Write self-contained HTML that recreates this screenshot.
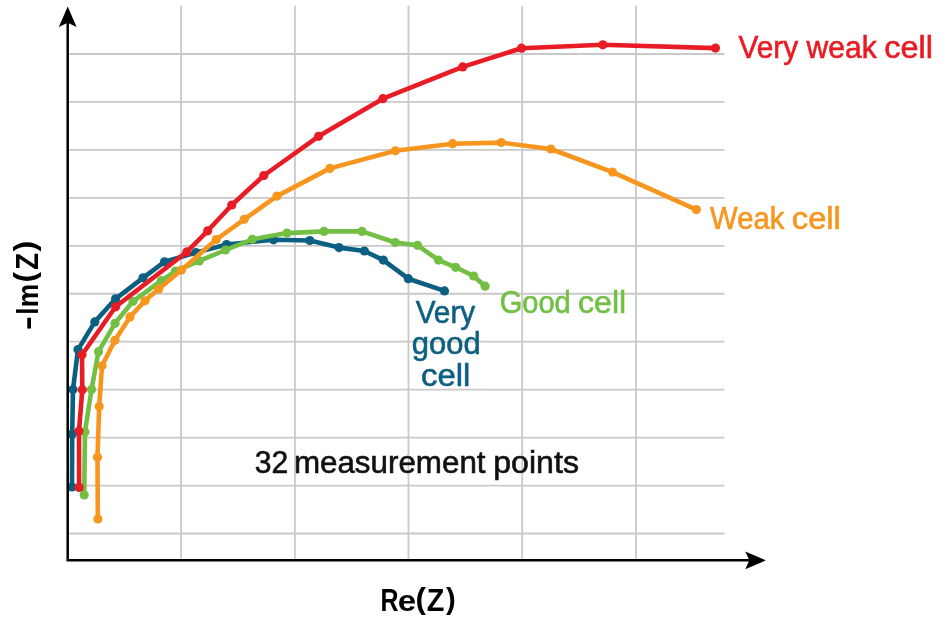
<!DOCTYPE html>
<html lang="en"><head><meta charset="utf-8"><title>Nyquist plot</title>
<style>html,body{margin:0;padding:0;background:#fff}svg{display:block}</style></head>
<body>
<svg width="948" height="627" viewBox="0 0 948 627" font-family="'Liberation Sans', sans-serif">
<rect width="948" height="627" fill="#fff"/>
<g stroke="#c9c9cb" stroke-width="1.8"><line x1="67" x2="724.5" y1="53.98" y2="53.98"/><line x1="67" x2="724.5" y1="101.93" y2="101.93"/><line x1="67" x2="724.5" y1="149.88" y2="149.88"/><line x1="67" x2="724.5" y1="197.83" y2="197.83"/><line x1="67" x2="724.5" y1="245.78" y2="245.78"/><line x1="67" x2="724.5" y1="293.73" y2="293.73"/><line x1="67" x2="724.5" y1="341.68" y2="341.68"/><line x1="67" x2="724.5" y1="389.63" y2="389.63"/><line x1="67" x2="724.5" y1="437.58" y2="437.58"/><line x1="67" x2="724.5" y1="485.53" y2="485.53"/><line x1="67" x2="724.5" y1="533.48" y2="533.48"/><line x1="181.1" x2="181.1" y1="5.8" y2="560"/><line x1="294.9" x2="294.9" y1="5.8" y2="560"/><line x1="408.45" x2="408.45" y1="5.8" y2="560"/><line x1="522.2" x2="522.2" y1="5.8" y2="560"/><line x1="635.95" x2="635.95" y1="5.8" y2="560"/></g>
<polyline points="72,487 72.2,434 73,389.5 78,349.6 94.8,321.9 115.6,298.8 143,277.8 164.5,261.8 196,252.6 226.6,244.5 273.5,239.8 309.8,240.5 339,247.6 364.4,251.0 383.3,260.1 408.3,278.7 444.5,290.9" fill="none" stroke="#0b5f80" stroke-width="4.6" stroke-linejoin="round" stroke-linecap="round"/>
<g fill="#0b5f80"><circle cx="72" cy="487" r="4.6"/><circle cx="72.2" cy="434" r="4.6"/><circle cx="73" cy="389.5" r="4.6"/><circle cx="78" cy="349.6" r="4.6"/><circle cx="94.8" cy="321.9" r="4.6"/><circle cx="115.6" cy="298.8" r="4.6"/><circle cx="143" cy="277.8" r="4.6"/><circle cx="164.5" cy="261.8" r="4.6"/><circle cx="196" cy="252.6" r="4.6"/><circle cx="226.6" cy="244.5" r="4.6"/><circle cx="273.5" cy="239.8" r="4.6"/><circle cx="309.8" cy="240.5" r="4.6"/><circle cx="339" cy="247.6" r="4.6"/><circle cx="364.4" cy="251.0" r="4.6"/><circle cx="383.3" cy="260.1" r="4.6"/><circle cx="408.3" cy="278.7" r="4.6"/><circle cx="444.5" cy="290.9" r="4.6"/></g>
<polyline points="84.2,494.9 85,431.9 91.5,389.5 98.5,351.7 115,323.3 133,301.3 161.3,280.7 175.5,271.1 199.3,260.9 225.5,250.0 252.4,239.3 287,233.1 324.1,231.4 362,231.4 395.2,242.5 417.5,245.3 438.5,260.1 455.7,267.3 473.6,276.0 485.1,286.2" fill="none" stroke="#72bf44" stroke-width="4.6" stroke-linejoin="round" stroke-linecap="round"/>
<g fill="#72bf44"><circle cx="84.2" cy="494.9" r="4.6"/><circle cx="85" cy="431.9" r="4.6"/><circle cx="91.5" cy="389.5" r="4.6"/><circle cx="98.5" cy="351.7" r="4.6"/><circle cx="115" cy="323.3" r="4.6"/><circle cx="133" cy="301.3" r="4.6"/><circle cx="161.3" cy="280.7" r="4.6"/><circle cx="175.5" cy="271.1" r="4.6"/><circle cx="199.3" cy="260.9" r="4.6"/><circle cx="225.5" cy="250.0" r="4.6"/><circle cx="252.4" cy="239.3" r="4.6"/><circle cx="287" cy="233.1" r="4.6"/><circle cx="324.1" cy="231.4" r="4.6"/><circle cx="362" cy="231.4" r="4.6"/><circle cx="395.2" cy="242.5" r="4.6"/><circle cx="417.5" cy="245.3" r="4.6"/><circle cx="438.5" cy="260.1" r="4.6"/><circle cx="455.7" cy="267.3" r="4.6"/><circle cx="473.6" cy="276.0" r="4.6"/><circle cx="485.1" cy="286.2" r="4.6"/></g>
<polyline points="97.85,519 97.5,457.2 99.2,406.5 102,365.8 115,340.3 130,316.9 145,300.8 158.7,288.9 181.5,270.0 216.3,239.5 244.2,219.3 277,196.1 329.8,168.4 395.4,150.8 452.6,143.7 501.2,142.6 550.8,149.0 612.5,172.1 696.3,209.6" fill="none" stroke="#f6961f" stroke-width="4.6" stroke-linejoin="round" stroke-linecap="round"/>
<g fill="#f6961f"><circle cx="97.85" cy="519" r="4.6"/><circle cx="97.5" cy="457.2" r="4.6"/><circle cx="99.2" cy="406.5" r="4.6"/><circle cx="102" cy="365.8" r="4.6"/><circle cx="115" cy="340.3" r="4.6"/><circle cx="130" cy="316.9" r="4.6"/><circle cx="145" cy="300.8" r="4.6"/><circle cx="158.7" cy="288.9" r="4.6"/><circle cx="181.5" cy="270.0" r="4.6"/><circle cx="216.3" cy="239.5" r="4.6"/><circle cx="244.2" cy="219.3" r="4.6"/><circle cx="277" cy="196.1" r="4.6"/><circle cx="329.8" cy="168.4" r="4.6"/><circle cx="395.4" cy="150.8" r="4.6"/><circle cx="452.6" cy="143.7" r="4.6"/><circle cx="501.2" cy="142.6" r="4.6"/><circle cx="550.8" cy="149.0" r="4.6"/><circle cx="612.5" cy="172.1" r="4.6"/><circle cx="696.3" cy="209.6" r="4.6"/></g>
<polyline points="79.1,487.5 79,431 82.3,389.8 82,354.8 115.6,306.8 186.8,251.9 207.7,230.8 231.8,205.0 263.8,175.5 318.6,136.3 382.9,98.7 462.7,66.9 521.5,48.2 602.8,44.8 715.5,48.1" fill="none" stroke="#e81c24" stroke-width="4.6" stroke-linejoin="round" stroke-linecap="round"/>
<g fill="#e81c24"><circle cx="79.1" cy="487.5" r="4.6"/><circle cx="79" cy="431" r="4.6"/><circle cx="82.3" cy="389.8" r="4.6"/><circle cx="82" cy="354.8" r="4.6"/><circle cx="115.6" cy="306.8" r="4.6"/><circle cx="186.8" cy="251.9" r="4.6"/><circle cx="207.7" cy="230.8" r="4.6"/><circle cx="231.8" cy="205.0" r="4.6"/><circle cx="263.8" cy="175.5" r="4.6"/><circle cx="318.6" cy="136.3" r="4.6"/><circle cx="382.9" cy="98.7" r="4.6"/><circle cx="462.7" cy="66.9" r="4.6"/><circle cx="521.5" cy="48.2" r="4.6"/><circle cx="602.8" cy="44.8" r="4.6"/><circle cx="715.5" cy="48.1" r="4.6"/></g>

<path d="M67.7 22 V560.35 H750" fill="none" stroke="#000" stroke-width="2.5" stroke-linejoin="miter"/>
<path d="M67.7 6.5 L76.6 26.9 L67.7 22.8 L58.8 26.9 Z" fill="#000"/>
<path d="M765.8 560.35 L745.3 569.25 L749.3 560.35 L745.3 551.45 Z" fill="#000"/>
<text y="57.8" fill="#e81c24" stroke="#e81c24" stroke-width="0.6" font-size="30.8" font-weight="400"><tspan x="738.40" textLength="59.73" lengthAdjust="spacingAndGlyphs">Very</tspan> <tspan x="806.60" textLength="70.14" lengthAdjust="spacingAndGlyphs">weak</tspan> <tspan x="884.30" textLength="48.69" lengthAdjust="spacingAndGlyphs">cell</tspan></text>
<text y="229.4" fill="#f6961f" stroke="#f6961f" stroke-width="0.6" font-size="30.8" font-weight="400"><tspan x="710.11" textLength="74.34" lengthAdjust="spacingAndGlyphs">Weak</tspan> <tspan x="791.79" textLength="49.12" lengthAdjust="spacingAndGlyphs">cell</tspan></text>
<text y="312.8" fill="#72bf44" stroke="#72bf44" stroke-width="0.6" font-size="30.8" font-weight="400"><tspan x="499.65" textLength="71.08" lengthAdjust="spacingAndGlyphs">Good</tspan> <tspan x="578.01" textLength="48.26" lengthAdjust="spacingAndGlyphs">cell</tspan></text>

<text y="322.6" fill="#0b5f80" stroke="#0b5f80" stroke-width="0.6" font-size="30.8" font-weight="400"><tspan x="415.70" textLength="59.43" lengthAdjust="spacingAndGlyphs">Very</tspan></text>
<text y="353.9" fill="#0b5f80" stroke="#0b5f80" stroke-width="0.6" font-size="30.8" font-weight="400"><tspan x="411.76" textLength="68.94" lengthAdjust="spacingAndGlyphs">good</tspan></text>
<text y="385.5" fill="#0b5f80" stroke="#0b5f80" stroke-width="0.6" font-size="30.8" font-weight="400"><tspan x="420.98" textLength="49.34" lengthAdjust="spacingAndGlyphs">cell</tspan></text>

<text y="473.0" fill="#111" stroke="#111" stroke-width="0.6" font-size="30.8" font-weight="400"><tspan x="254.70" textLength="33.48" lengthAdjust="spacingAndGlyphs">32</tspan> <tspan x="293.91" textLength="191.62" lengthAdjust="spacingAndGlyphs">measurement</tspan> <tspan x="493.25" textLength="85.69" lengthAdjust="spacingAndGlyphs">points</tspan></text>

<text fill="#000" font-weight="700"><tspan x="380.53" y="611.4" font-size="31.2" textLength="18.03" lengthAdjust="spacingAndGlyphs">R</tspan><tspan x="397.88" y="611.4" font-size="29.4" textLength="18.42" lengthAdjust="spacingAndGlyphs">e</tspan><tspan x="415.43" y="609.3" font-size="29.8" textLength="10.47" lengthAdjust="spacingAndGlyphs">(</tspan><tspan x="426.84" y="611.4" font-size="31.2" textLength="17.55" lengthAdjust="spacingAndGlyphs">Z</tspan><tspan x="445.95" y="609.3" font-size="29.8" textLength="9.75" lengthAdjust="spacingAndGlyphs">)</tspan></text>
<g transform="translate(37.7 328.6) rotate(-90)"><text fill="#000" font-weight="700"><tspan x="-1.71" y="-0.7" font-size="31" textLength="14.24" lengthAdjust="spacingAndGlyphs">-</tspan><tspan x="14.23" y="0" font-size="31.3" textLength="6.71" lengthAdjust="spacingAndGlyphs">I</tspan><tspan x="21.48" y="0" font-size="29.4" textLength="23.52" lengthAdjust="spacingAndGlyphs">m</tspan><tspan x="46.13" y="-2.7" font-size="29.4" textLength="10.47" lengthAdjust="spacingAndGlyphs">(</tspan><tspan x="58.87" y="0" font-size="31.3" textLength="16.88" lengthAdjust="spacingAndGlyphs">Z</tspan><tspan x="77.04" y="-2.7" font-size="29.4" textLength="10.82" lengthAdjust="spacingAndGlyphs">)</tspan></text></g>
</svg>
</body></html>
